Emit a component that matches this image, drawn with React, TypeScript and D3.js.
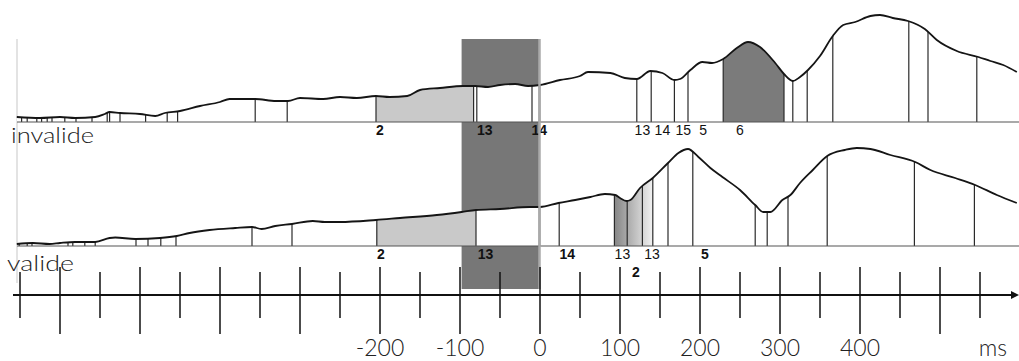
import React, { useEffect, useRef } from 'react';
import * as d3 from 'd3';

// GFP curves, [time in ms, amplitude]
const invalideGfp: [number, number][] = [
  [-654, 0.5], [-625, 0.4], [-600, 0.5], [-581, 0.4], [-556, 0.5], [-544, 0.8], [-538, 1.0],
  [-525, 0.9], [-500, 0.8], [-481, 0.6], [-469, 0.9], [-450, 1.1], [-425, 1.6], [-400, 2.0],
  [-388, 2.3], [-356, 2.3], [-330, 2.1], [-315, 2.1], [-300, 2.4], [-271, 2.3], [-250, 2.5],
  [-229, 2.4], [-205, 2.6], [-188, 2.5], [-166, 2.6], [-150, 3.2], [-125, 3.4], [-96, 3.6],
  [-81, 3.6], [-65, 3.5], [-50, 3.7], [-31, 3.8], [-15, 3.6], [0, 3.7], [25, 4.2], [50, 4.6],
  [60, 5.0], [88, 4.9], [106, 4.4], [121, 4.3], [138, 5.1], [153, 4.9], [168, 4.2], [175, 4.3],
  [188, 5.2], [203, 6.0], [215, 5.9], [229, 6.3], [246, 7.4], [260, 8.0], [275, 7.5], [294, 5.9],
  [305, 4.8], [316, 4.1], [325, 4.5], [335, 5.2], [350, 6.6], [366, 8.6], [379, 9.7], [394, 10.0],
  [413, 10.6], [425, 10.7], [441, 10.4], [460, 10.1], [481, 9.3], [496, 8.2], [521, 7.1],
  [548, 6.5], [563, 6.1], [579, 5.7], [596, 5.0],
];

const valideGfp: [number, number][] = [
  [-654, 0.2], [-634, 0.3], [-613, 0.2], [-600, 0.3], [-581, 0.4], [-556, 0.4], [-538, 0.8],
  [-531, 0.85], [-506, 0.7], [-475, 0.8], [-454, 1.0], [-438, 1.3], [-413, 1.6], [-381, 1.8],
  [-360, 1.9], [-348, 1.7], [-331, 2.0], [-310, 2.2], [-284, 2.5], [-269, 2.4], [-250, 2.4],
  [-205, 2.6], [-175, 2.8], [-129, 3.1], [-98, 3.4], [-80, 3.6], [-50, 3.7], [-13, 3.9], [0, 3.9],
  [23, 4.3], [44, 4.6], [63, 4.9], [81, 5.2], [94, 5.1], [100, 4.8], [108, 4.5], [113, 4.6],
  [125, 5.8], [141, 6.8], [160, 8.3], [173, 9.3], [185, 9.7], [198, 8.9], [213, 7.8], [228, 6.9],
  [250, 5.6], [269, 4.1], [279, 3.4], [288, 3.4], [303, 4.6], [313, 5.1], [325, 6.3], [341, 7.6],
  [359, 9.0], [381, 9.6], [396, 9.8], [413, 9.7], [438, 9.1], [469, 8.4], [488, 7.6], [519, 6.8],
  [544, 6.1], [571, 5.1], [596, 4.3],
];

// segment boundaries (ms)
const invalideBounds = [
  -648, -641, -629, -623, -616, -610, -594, -580, -560, -541, -538, -525, -493, -466, -453,
  -356, -316, -205, -83, -79, -10, 121, 139, 168, 185, 229, 305, 316, 334, 366, 461, 485, 546, 598,
];
const valideBounds = [
  -651, -641, -635, -590, -584, -569, -556, -505, -490, -474, -455, -360, -310, -204, -80,
  24, 93, 109, 128, 141, 160, 191, 269, 284, 310, 359, 468, 543, 598,
];

// shaded segments
const invalideFills = [
  { from: -205, to: -83, kind: 'light' },
  { from: 229, to: 305, kind: 'dark' },
];
const valideFills = [
  { from: -204, to: -80, kind: 'light' },
  { from: 93, to: 141, kind: 'grad' },
];

// segment map labels
const invalideLabels = [
  { t: -200, text: '2', bold: true, row: 0 },
  { t: -69, text: '13', bold: true, row: 0 },
  { t: -1, text: '14', bold: true, row: 0 },
  { t: 128, text: '13', bold: false, row: 0 },
  { t: 153, text: '14', bold: false, row: 0 },
  { t: 179, text: '15', bold: false, row: 0 },
  { t: 204, text: '5', bold: false, row: 0 },
  { t: 250, text: '6', bold: false, row: 0 },
];
const valideLabels = [
  { t: -199, text: '2', bold: true, row: 0 },
  { t: -68, text: '13', bold: true, row: 0 },
  { t: 34, text: '14', bold: true, row: 0 },
  { t: 103, text: '13', bold: false, row: 0 },
  { t: 140, text: '13', bold: false, row: 0 },
  { t: 206, text: '5', bold: true, row: 0 },
  { t: 120, text: '2', bold: true, row: 1 },
];

const majorTicks = [-600, -500, -400, -300, -200, -100, 0, 100, 200, 300, 400, 500];
const minorTicks = [-650, -550, -450, -350, -250, -150, -50, 50, 150, 250, 350, 450, 550];
const tickLabels = [-200, -100, 0, 100, 200, 300, 400];
const window = [-98, 0];

const App = () => {
  const svgRef = useRef<SVGSVGElement>(null);

  useEffect(() => {
    const svg = d3.select(svgRef.current);
    svg.selectAll('*').remove();

    const x = d3.scaleLinear().domain([-650, 600]).range([20, 1020]);
    const font = 'Lato, "Open Sans", sans-serif';

    const defs = svg.append('defs');
    const grad = defs.append('linearGradient')
      .attr('id', 'segGrad')
      .attr('gradientUnits', 'userSpaceOnUse')
      .attr('x1', x(93)).attr('x2', x(141))
      .attr('y1', 0).attr('y2', 0);
    grad.append('stop').attr('offset', '0%').attr('stop-color', '#858585');
    grad.append('stop').attr('offset', '100%').attr('stop-color', '#f2f2f2');

    // light vertical on the left
    svg.append('line')
      .attr('x1', 17).attr('x2', 17).attr('y1', 39).attr('y2', 283)
      .attr('stroke', '#dadada').attr('stroke-width', 1.5);

    // analysis window
    svg.append('rect')
      .attr('x', x(window[0])).attr('y', 39)
      .attr('width', x(window[1]) - x(window[0])).attr('height', 250)
      .attr('fill', '#777');

    const panels = [
      { id: 'inv', name: 'invalide', data: invalideGfp, bounds: invalideBounds, fills: invalideFills,
        labels: invalideLabels, base: 122, labelY: 135, nameX: 11, nameY: 143, nameLen: 83 },
      { id: 'val', name: 'valide', data: valideGfp, bounds: valideBounds, fills: valideFills,
        labels: valideLabels, base: 246, labelY: 259, nameX: 7, nameY: 271, nameLen: 67 },
    ];

    panels.forEach(p => {
      const y = d3.scaleLinear().domain([0, 10]).range([p.base, p.base - 100]);
      const area = d3.area<[number, number]>()
        .x(d => x(d[0])).y0(p.base).y1(d => y(d[1]))
        .curve(d3.curveMonotoneX);
      const line = d3.line<[number, number]>()
        .x(d => x(d[0])).y(d => y(d[1]))
        .curve(d3.curveMonotoneX);

      defs.append('clipPath').attr('id', `clip-${p.id}`)
        .append('path').attr('d', area(p.data));

      svg.append('path').attr('d', area(p.data)).attr('fill', '#fff');

      const g = svg.append('g').attr('clip-path', `url(#clip-${p.id})`);
      p.fills.forEach(f => {
        g.append('rect')
          .attr('x', x(f.from)).attr('y', p.base - 110)
          .attr('width', x(f.to) - x(f.from)).attr('height', 110)
          .attr('fill', f.kind === 'light' ? '#c9c9c9' : f.kind === 'dark' ? '#7b7b7b' : 'url(#segGrad)');
      });

      // zero line stripe
      g.append('line')
        .attr('x1', x(0) - 0.5).attr('x2', x(0) - 0.5)
        .attr('y1', p.base - 110).attr('y2', p.base)
        .attr('stroke', '#aaa').attr('stroke-width', 2.5);

      g.selectAll('.bound')
        .data(p.bounds)
        .enter().append('line')
        .attr('x1', d => x(d)).attr('x2', d => x(d))
        .attr('y1', p.base - 110).attr('y2', p.base)
        .attr('stroke', '#2a2a2a').attr('stroke-width', 1.2);

      svg.append('line')
        .attr('x1', 17).attr('x2', 1019).attr('y1', p.base).attr('y2', p.base)
        .attr('stroke', '#555').attr('stroke-width', 1.2);

      svg.append('path').attr('d', line(p.data))
        .attr('fill', 'none').attr('stroke', '#151515').attr('stroke-width', 1.8);

      svg.selectAll(`.lab-${p.id}`)
        .data(p.labels)
        .enter().append('text')
        .attr('x', d => x(d.t)).attr('y', d => p.labelY + d.row * 18)
        .attr('text-anchor', 'middle')
        .style('font-family', '"Liberation Sans", Arial, sans-serif')
        .style('font-size', '14px')
        .style('font-weight', d => (d.bold ? 'bold' : 'normal'))
        .attr('fill', '#111')
        .text(d => d.text);

      svg.append('text')
        .attr('x', p.nameX).attr('y', p.nameY)
        .attr('textLength', p.nameLen).attr('lengthAdjust', 'spacingAndGlyphs')
        .style('font-family', font).style('font-size', '22px').style('font-weight', 300)
        .attr('fill', '#222')
        .text(p.name);
    });

    // right edge of window
    svg.append('line')
      .attr('x1', x(0) - 0.5).attr('x2', x(0) - 0.5).attr('y1', 39).attr('y2', 289)
      .attr('stroke', '#aaa').attr('stroke-width', 2.5);

    // time axis
    const axisY = 295;
    svg.append('line')
      .attr('x1', 13).attr('x2', 1013).attr('y1', axisY).attr('y2', axisY)
      .attr('stroke', '#111').attr('stroke-width', 2);
    svg.append('path')
      .attr('d', `M1011,${axisY - 4}L1019,${axisY}L1011,${axisY + 4}Z`)
      .attr('fill', '#111');

    svg.selectAll('.major')
      .data(majorTicks)
      .enter().append('line')
      .attr('x1', d => x(d)).attr('x2', d => x(d))
      .attr('y1', 267).attr('y2', 334)
      .attr('stroke', '#111').attr('stroke-width', 1.5);
    svg.selectAll('.minor')
      .data(minorTicks)
      .enter().append('line')
      .attr('x1', d => x(d)).attr('x2', d => x(d))
      .attr('y1', 272).attr('y2', 318)
      .attr('stroke', '#111').attr('stroke-width', 1.5);

    svg.selectAll('.tl')
      .data(tickLabels)
      .enter().append('text')
      .attr('x', d => x(d)).attr('y', 356)
      .attr('text-anchor', 'middle')
      .style('font-family', font).style('font-size', '23px').style('font-weight', 300)
      .attr('fill', '#222')
      .text(d => String(d));

    svg.append('text')
      .attr('x', 993).attr('y', 356)
      .attr('text-anchor', 'middle')
      .style('font-family', font).style('font-size', '23px').style('font-weight', 300)
      .attr('fill', '#222')
      .text('ms');
  }, []);

  return (
    <svg
      ref={svgRef}
      width={1019}
      height={361}
      style={{ position: 'absolute', left: 0, top: 0, background: '#fff' }}
    />
  );
};

export default App;
